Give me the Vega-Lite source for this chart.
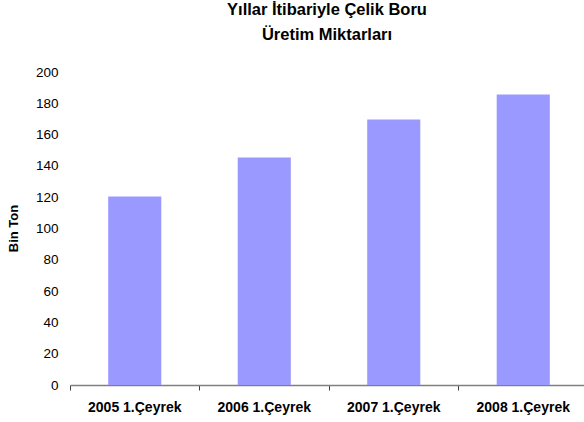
{
  "$schema": "https://vega.github.io/schema/vega-lite/v6.json",
  "width": 514,
  "height": 313,
  "autosize": {"type": "none"},
  "padding": {"left": 70, "top": 72, "right": 0, "bottom": 37},
  "background": "white",
  "config": {"view": {"stroke": null}, "font": "Liberation Sans"},
  "title": {
    "text": ["Yıllar İtibariyle Çelik Boru", "Üretim Miktarları"],
    "font": "Liberation Sans",
    "fontSize": 16.5,
    "fontWeight": "bold",
    "color": "#000000",
    "lineHeight": 24.5,
    "offset": 22,
    "anchor": "middle"
  },
  "data": {
    "values": [
      {"donem": "2005 1.Çeyrek", "deger": 120.5},
      {"donem": "2006 1.Çeyrek", "deger": 145.3},
      {"donem": "2007 1.Çeyrek", "deger": 169.6},
      {"donem": "2008 1.Çeyrek", "deger": 185.6}
    ]
  },
  "layer": [
    {
      "mark": {"type": "bar", "color": "#9999FF", "width": {"band": 0.41}},
      "encoding": {
        "x": {
          "field": "donem",
          "type": "nominal",
          "sort": null,
          "scale": {"type": "band", "paddingInner": 0, "paddingOuter": 0, "range": [0, 518]},
          "axis": {
            "orient": "bottom",
            "title": null,
            "labels": false,
            "bandPosition": 0,
            "domainColor": "#808080",
            "domainWidth": 1.5,
            "tickColor": "#404040",
            "tickSize": 5,
            "tickWidth": 1
          }
        },
        "y": {
          "field": "deger",
          "type": "quantitative",
          "scale": {"domain": [0, 200], "nice": false},
          "axis": {
            "title": "Bin Ton",
            "titleFont": "Liberation Sans",
            "titleFontSize": 13,
            "titleFontWeight": "bold",
            "titleColor": "#000000",
            "titleAngle": -90,
            "titleX": -57,
            "titleY": 156,
            "titleAlign": "center",
            "titleBaseline": "middle",
            "values": [0, 20, 40, 60, 80, 100, 120, 140, 160, 180, 200],
            "labelOverlap": false,
            "labelBound": false,
            "domain": false,
            "ticks": false,
            "grid": false,
            "labelFont": "Liberation Sans",
            "labelFontSize": 13.5,
            "labelColor": "#000000",
            "labelPadding": 12
          }
        }
      }
    },
    {
      "mark": {"type": "text", "text": ""},
      "encoding": {
        "x": {
          "field": "donem",
          "type": "nominal",
          "sort": null,
          "axis": {
            "orient": "bottom",
            "title": null,
            "domain": false,
            "ticks": false,
            "labelAngle": 0,
            "labelFont": "Liberation Sans",
            "labelFontSize": 14,
            "labelFontWeight": "bold",
            "labelColor": "#000000",
            "labelPadding": 15
          }
        }
      }
    }
  ],
  "resolve": {"axis": {"x": "independent"}}
}
